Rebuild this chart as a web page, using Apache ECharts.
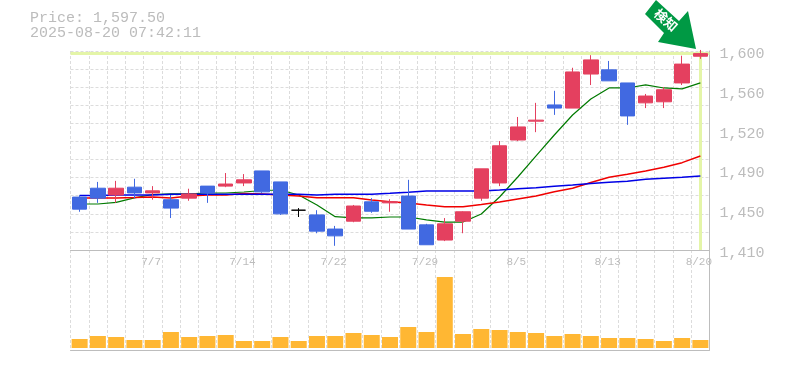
<!DOCTYPE html>
<html><head><meta charset="utf-8">
<style>html,body{margin:0;padding:0;background:#fff}#c{width:785px;height:370px}</style>
<script src="https://cdn.jsdelivr.net/npm/echarts@6/dist/echarts.min.js"></script>
</head><body><div id="c"></div>
<script>
const dates = ['7/1','7/2','7/3','7/4','7/7','7/8','7/9','7/10','7/11','7/14','7/15','7/16','7/17','7/18','7/22','7/23','7/24','7/25','7/28','7/29','7/30','7/31','8/1','8/4','8/5','8/6','8/7','8/8','8/12','8/13','8/14','8/15','8/18','8/19','8/20'];
const xTickLabels = ['7/7','7/14','7/22','7/29','8/5','8/13','8/20'];
const opens  = [1460.5,1469,1462.5,1470,1464.5,1458,1459.5,1471,1471,1474,1485.5,1475,1448,1443.5,1430,1437.5,1456,1455,1461.5,1434,1419.5,1437.5,1459.5,1474,1515,1533,1548.5,1545.5,1578,1582,1569.5,1550.5,1551.5,1569.5,1595];
const closes = [1449,1459.5,1469,1464.5,1466.5,1450,1463.5,1464.5,1473,1477,1465.5,1444.5,1448,1428,1423.5,1452,1447,1456,1430,1415,1435,1446.5,1487.5,1509.5,1527.5,1534,1545.5,1580,1591.5,1571.5,1538,1557,1563,1587.5,1597.5];
const lows   = [1446.5,1455,1455,1459.5,1458,1440.5,1457,1455,1470,1471,1464.5,1443.5,1441.5,1426,1414,1436.5,1445.5,1446.5,1430,1415,1418.5,1426,1457,1471,1514,1522.5,1539,1545.5,1567.5,1571.5,1529.5,1545.5,1545.5,1567.5,1592.5];
const highs  = [1462.5,1475,1476,1478,1471,1462.5,1468.5,1471,1483.5,1482.5,1485.5,1475,1450,1448,1433,1453,1459.5,1458.5,1477,1435,1440.5,1447,1487.5,1514,1537,1550.5,1562,1584,1596,1590.5,1569.5,1559,1565.5,1595.5,1601];
const maShort = [1453.9,1453.9,1455.4,1459.7,1463,1463.5,1463.5,1464.4,1464.4,1465.4,1466.8,1467.3,1462.5,1453,1441.8,1440.6,1440.6,1441.5,1441.5,1438.7,1436.7,1436.7,1444.4,1460.6,1479.7,1499.8,1519.8,1538.9,1554.2,1564.7,1564.7,1567.6,1564.7,1563.8,1569.5];
const maMid   = [1459.7,1459.7,1459.7,1460.1,1460.6,1459.7,1461.6,1462.5,1462.5,1464,1463.5,1462.5,1461.6,1460,1460,1460,1457.8,1456.1,1454.9,1453,1451.4,1451.4,1453.5,1455.8,1458.7,1461.6,1465.7,1468.9,1474.5,1479.4,1482.3,1485.4,1489,1493.4,1499.8];
const maLong  = [1462,1462,1462.5,1462.5,1462.5,1463.2,1463.2,1463.2,1463.2,1463.2,1463.2,1463.2,1463.2,1462.5,1463.2,1463.2,1463.2,1464.1,1465.1,1466.3,1466.3,1466.3,1466.3,1467.3,1468.5,1469.5,1470.8,1472.1,1473.6,1474.7,1475.6,1477.5,1478.5,1479.4,1480.7];
const volumes = [9,12,11,8,8,16,11,12,13,7,7,11,7,12,12,15,13,11,21,16,71,14,19,18,16,15,12,14,12,10,10,9,7,10,8];
const yTickValues = [1410,1448,1486,1524,1562,1600];
const yTickLabels = ['1,410','1,450','1,490','1,520','1,560','1,600'];
const lastPrice = 1597.5;
const titleLines = ['Price: 1,597.50','2025-08-20 07:42:11'];
const badgeText = '検知';

const mono = '"Liberation Mono", monospace';
const grey = '#bcbcbc', axisGrey = '#bdbdbd';
const dash = {color:'#dcdcdc',width:1,type:[3,2]};
const candle = dates.map((_,i)=>[opens[i],closes[i],lows[i],highs[i]]);
const chart = echarts.init(document.getElementById('c'),null,{renderer:'canvas'});
chart.setOption({
  animation:false,
  backgroundColor:'#fff',
  title:{text:titleLines.join('\n'),left:30,top:11,padding:0,
    textStyle:{fontFamily:mono,fontSize:15,fontWeight:'normal',color:grey,lineHeight:15}},
  grid:[{left:70.5,width:639,top:51,height:199},{left:70.5,width:639,top:250,height:100}],
  xAxis:[
    {type:'category',gridIndex:0,data:dates,boundaryGap:true,
     axisLine:{show:true,onZero:false,lineStyle:{color:axisGrey,width:1}},axisTick:{show:false},
     axisLabel:{interval:(i)=>xTickLabels.includes(dates[i]),margin:7,padding:[0,3,0,0],fontFamily:mono,fontSize:11,color:grey,hideOverlap:false,showMaxLabel:true},
     splitLine:{show:true,interval:0,lineStyle:dash}},
    {type:'category',gridIndex:1,data:dates,boundaryGap:true,
     axisLine:{show:true,onZero:false,lineStyle:{color:axisGrey,width:1}},axisTick:{show:false},axisLabel:{show:false},
     splitLine:{show:true,interval:0,lineStyle:dash}}
  ],
  yAxis:[
    {type:'value',gridIndex:0,position:'right',min:1410,max:1600,
     axisLine:{show:true,lineStyle:{color:axisGrey,width:1}},axisTick:{show:false},splitLine:{show:false},
     axisLabel:{customValues:yTickValues,formatter:(v)=>yTickLabels[yTickValues.indexOf(v)],margin:10,verticalAlign:'top',lineHeight:6,
       fontFamily:mono,fontSize:15,color:grey}},
    {type:'value',gridIndex:0,min:0,max:11,interval:1,axisLine:{show:false},axisTick:{show:false},axisLabel:{show:false},
     splitLine:{show:true,lineStyle:dash}},
    {type:'value',gridIndex:1,position:'right',min:-2,max:98,
     axisLine:{show:true,lineStyle:{color:axisGrey,width:1}},axisTick:{show:false},axisLabel:{show:false},splitLine:{show:false}}
  ],
  series:[
    {type:'line',name:'short',data:maShort,xAxisIndex:0,yAxisIndex:0,symbol:'none',z:2,lineStyle:{color:'#007a00',width:1.2}},
    {type:'line',name:'mid',data:maMid,xAxisIndex:0,yAxisIndex:0,symbol:'none',z:2,lineStyle:{color:'#f00000',width:1.5}},
    {type:'line',name:'long',data:maLong,xAxisIndex:0,yAxisIndex:0,symbol:'none',z:2,lineStyle:{color:'#0000e6',width:1.5}},
    {type:'candlestick',name:'price',data:candle,xAxisIndex:0,yAxisIndex:0,barWidth:15,clip:false,z:3,
     itemStyle:{color:'#e4405f',color0:'#4169e1',borderColor:'#e4405f',borderColor0:'#4169e1',borderColorDoji:'#000',borderWidth:1},
     markLine:{silent:true,symbol:'none',z:1,label:{show:false},
       lineStyle:{color:'#e4f5a8',width:3,type:'solid'},
       data:[{yAxis:lastPrice},{xAxis:dates[dates.length-1]}]}},
    {type:'bar',name:'volume',data:volumes,xAxisIndex:1,yAxisIndex:2,barWidth:16,itemStyle:{color:'#ffb733'}}
  ],
  graphic:[
    {type:'polygon',z:20,shape:{points:[[645,14],[656,0],[679,21],[688,11],[696,49],[658,42],[664,33]]},style:{fill:'#009944'}},
    {type:'text',z:21,x:666,y:20,rotation:-Math.PI*0.23,style:{text:badgeText,fill:'#fff',font:'bold 13px "Noto Sans CJK JP"',align:'center',verticalAlign:'middle'}}
  ]
});
</script></body></html>
